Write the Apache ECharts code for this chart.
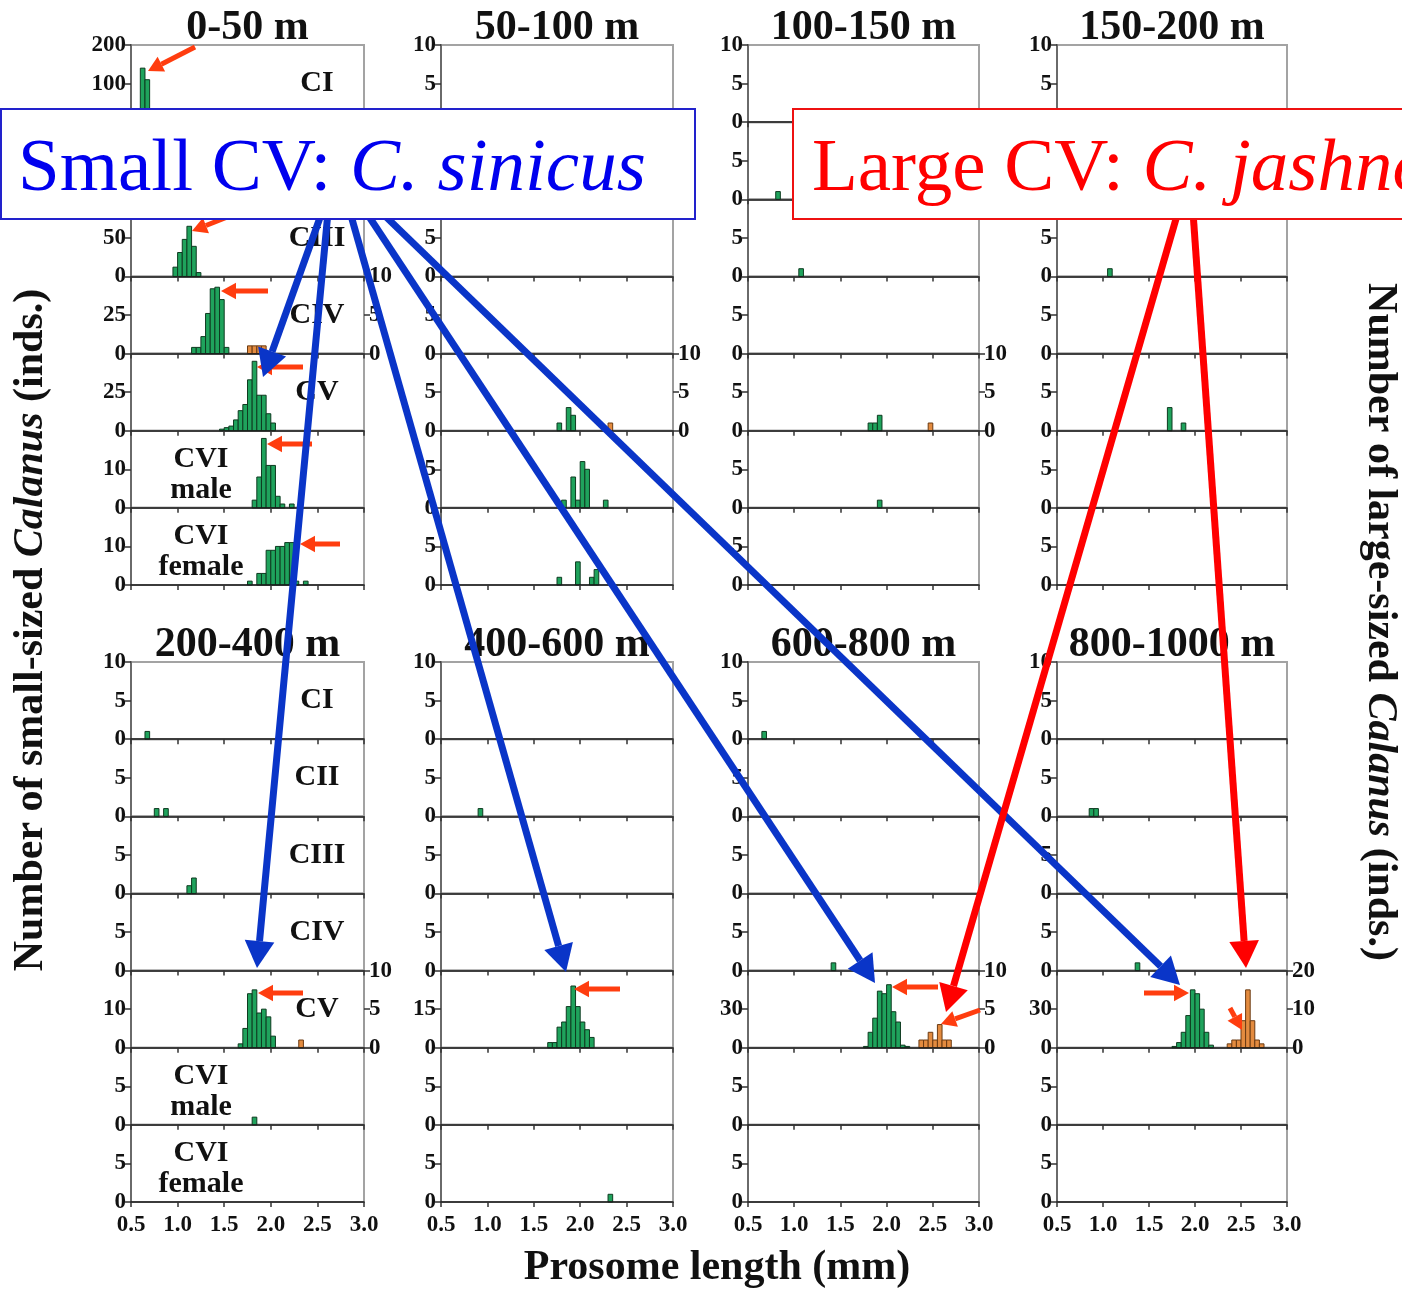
<!DOCTYPE html>
<html><head><meta charset="utf-8">
<script src="https://cdn.jsdelivr.net/npm/echarts@6/dist/echarts.min.js"></script>
<style>html,body{margin:0;padding:0;background:#fff}#c{width:1402px;height:1289px}</style>
</head><body><div id="c"></div>
<script>
// ---------- DATA ----------
const BIN = 0.05; // histogram bin width (mm)
const depthTitles = ['0-50 m','50-100 m','100-150 m','150-200 m','200-400 m','400-600 m','600-800 m','800-1000 m'];
const stageNames = ['CI','CII','CIII','CIV','CV','CVI\nmale','CVI\nfemale'];
const lengthTicks = [0.5, 1.0, 1.5, 2.0, 2.5, 3.0];

// small-sized Calanus: [bin start (mm), number of inds.]
const s0_CI   = [[0.55,3],[0.60,140],[0.65,110],[0.70,20]];
const s0_CII  = [];
const s0_CIII = [[0.95,12],[1.00,31],[1.05,48],[1.10,65],[1.15,39],[1.20,5]];
const s0_CIV  = [[1.15,4],[1.20,4],[1.25,11],[1.30,26],[1.35,42],[1.40,43],[1.45,35],[1.50,4]];
const s0_CV   = [[1.45,1],[1.50,2],[1.55,3],[1.60,7],[1.65,13],[1.70,17],[1.75,33],[1.80,45],[1.85,23],[1.90,23],[1.95,11],[2.00,5]];
const s0_CVIm = [[1.80,2],[1.85,8],[1.90,18],[1.95,11],[2.00,11],[2.05,3],[2.10,1],[2.20,1]];
const s0_CVIf = [[1.75,1],[1.85,3],[1.90,3],[1.95,9],[2.00,9],[2.05,10],[2.10,10],[2.15,11],[2.20,11],[2.25,1],[2.35,1]];

const s1_CV   = [[1.75,1],[1.85,3],[1.90,2]];
const s1_CVIm = [[1.80,1],[1.90,4],[1.95,1],[2.00,6],[2.05,5],[2.25,1]];
const s1_CVIf = [[1.75,1],[1.95,3],[2.10,1],[2.15,2]];

const s2_CII  = [[0.80,1]];
const s2_CIII = [[1.05,1]];
const s2_CV   = [[1.80,1],[1.85,1],[1.90,2]];
const s2_CVIm = [[1.90,1]];

const s3_CIII = [[1.05,1]];
const s3_CV   = [[1.70,3],[1.85,1]];

const s4_CI   = [[0.65,1]];
const s4_CII  = [[0.75,1],[0.85,1]];
const s4_CIII = [[1.10,1],[1.15,2]];
const s4_CV   = [[1.65,1],[1.70,5],[1.75,14],[1.80,15],[1.85,9],[1.90,10],[1.95,8],[2.00,3]];
const s4_CVIm = [[1.80,1]];

const s5_CII  = [[0.90,1]];
const s5_CV   = [[1.65,2],[1.70,2],[1.75,8],[1.80,10],[1.85,16],[1.90,24],[1.95,16],[2.00,10],[2.05,7],[2.10,4]];
const s5_CVIf = [[2.30,1]];

const s6_CI   = [[0.65,1]];
const s6_CIV  = [[1.40,1]];
const s6_CV   = [[1.75,1],[1.80,12],[1.85,23],[1.90,44],[1.95,42],[2.00,49],[2.05,28],[2.10,20],[2.15,2],[2.20,1]];

const s7_CII  = [[0.85,1],[0.90,1]];
const s7_CIV  = [[1.35,1]];
const s7_CV   = [[1.75,1],[1.80,4],[1.85,12],[1.90,25],[1.95,45],[2.00,42],[2.05,30],[2.10,12],[2.15,2]];

// large-sized Calanus (C. jashnovi)
const L0_CIV = [[1.75,1],[1.80,1],[1.85,1],[1.90,1]];
const L1_CV  = [[2.30,1]];
const L2_CV  = [[2.45,1]];
const L4_CV  = [[2.30,1]];
const L6_CV  = [[2.35,1],[2.40,1],[2.45,2],[2.50,1],[2.55,3],[2.60,1],[2.65,1]];
const L7_CV  = [[2.35,1],[2.40,2],[2.45,2],[2.50,7],[2.55,15],[2.60,7],[2.65,2],[2.70,1]];

// left axis maxima per depth / stage
const smallMax = [
  [200,100,100,50,50,20,20],
  [10,10,10,10,10,10,10],
  [10,10,10,10,10,10,10],
  [10,10,10,10,10,10,10],
  [10,10,10,10,20,10,10],
  [10,10,10,10,30,10,10],
  [10,10,10,10,60,10,10],
  [10,10,10,10,60,10,10]
];

// table built from the named arrays
const E = [];
const smallTable = [
  [s0_CI, s0_CII, s0_CIII, s0_CIV, s0_CV, s0_CVIm, s0_CVIf],
  [E, E, E, E, s1_CV, s1_CVIm, s1_CVIf],
  [E, s2_CII, s2_CIII, E, s2_CV, s2_CVIm, E],
  [E, E, s3_CIII, E, s3_CV, E, E],
  [s4_CI, s4_CII, s4_CIII, E, s4_CV, s4_CVIm, E],
  [E, s5_CII, E, E, s5_CV, E, s5_CVIf],
  [s6_CI, E, E, s6_CIV, s6_CV, E, E],
  [E, s7_CII, E, s7_CIV, s7_CV, E, E]
];
// [depth, stage, right-axis max, data]
const largeTable = [
  [0, 3, 10, L0_CIV],
  [1, 4, 10, L1_CV],
  [2, 4, 10, L2_CV],
  [4, 4, 10, L4_CV],
  [6, 4, 10, L6_CV],
  [7, 4, 20, L7_CV]
];

// ---------- LAYOUT / STYLE ----------
const colLeft = [131, 441, 748, 1057];
const colWidth = [233, 232, 231, 230];
const blockTop = [45, 662];
const blockH = 540;
const subH = blockH / 7;
const SERIF = '"Liberation Serif","Times New Roman",serif';
const GREEN = '#1fa35c', GREEN_EDGE = '#0e3b20';
const ORANGE = '#e38b3f', ORANGE_EDGE = '#6b3a12';
const lbl = {fontFamily: SERIF, fontWeight: 'bold', fontSize: 23, color: '#111'};

function histRenderer(fill, edge) {
  return function (params, api) {
    const x0 = api.value(0), n = api.value(1);
    const a = api.coord([x0, 0]);
    const b = api.coord([x0 + BIN, n]);
    return {type: 'rect', shape: {x: a[0], y: b[1], width: b[0] - a[0], height: a[1] - b[1]},
            style: {fill: fill, stroke: edge, lineWidth: 1}};
  };
}

const grids = [], xAxes = [], yAxes = [], series = [];
for (let d = 0; d < 8; d++) {
  const col = d % 4, row = Math.floor(d / 4);
  for (let s = 0; s < 7; s++) {
    const g = grids.length;
    grids.push({left: colLeft[col], top: blockTop[row] + s * subH, width: colWidth[col], height: subH,
                show: true, borderColor: '#a3a3a3', borderWidth: 2, backgroundColor: 'transparent'});
    xAxes.push({gridIndex: g, type: 'value', min: lengthTicks[0], max: lengthTicks[lengthTicks.length - 1],
                interval: lengthTicks[1] - lengthTicks[0], z: 5,
                axisLine: {show: true, onZero: false, lineStyle: {color: '#1a1a1a', width: 1.5}},
                axisTick: {show: true, length: 5, lineStyle: {color: '#333', width: 1.5}},
                axisLabel: Object.assign({show: s === 6 && row === 1, margin: 12, formatter: v => v.toFixed(1)}, lbl),
                splitLine: {show: false}});
    const M = smallMax[d][s];
    const yl = yAxes.length;
    yAxes.push({gridIndex: g, type: 'value', min: 0, max: M, interval: M / 2, position: 'left', z: 5,
                axisLine: {show: true, lineStyle: {color: '#6a6a6a', width: 2}},
                axisTick: {show: true, length: 6, lineStyle: {color: '#333', width: 1.5}},
                axisLabel: Object.assign({showMaxLabel: s === 0, showMinLabel: true, margin: 5}, lbl),
                splitLine: {show: false}});
    series.push({type: 'custom', coordinateSystem: 'cartesian2d', xAxisIndex: g, yAxisIndex: yl,
                 data: smallTable[d][s], renderItem: histRenderer(GREEN, GREEN_EDGE), clip: false, z: 3});
    const L = largeTable.find(r => r[0] === d && r[1] === s);
    if (L) {
      const yr = yAxes.length;
      yAxes.push({gridIndex: g, type: 'value', min: 0, max: L[2], interval: L[2] / 2, position: 'right', z: 5,
                  axisLine: {show: true, lineStyle: {color: '#9a9a9a', width: 2}},
                  axisTick: {show: true, length: 6, lineStyle: {color: '#333', width: 1.5}},
                  axisLabel: Object.assign({showMaxLabel: true, showMinLabel: true, margin: 5}, lbl),
                  splitLine: {show: false}});
      series.push({type: 'custom', coordinateSystem: 'cartesian2d', xAxisIndex: g, yAxisIndex: yr,
                   data: L[3], renderItem: histRenderer(ORANGE, ORANGE_EDGE), clip: false, z: 3});
    }
  }
}

// ---------- ANNOTATIONS ----------
const graphics = [];
function txt(x, y, text, size, opts) {
  graphics.push(Object.assign({type: 'text', x: x, y: y, z: 20,
    style: {text: text, fontFamily: SERIF, fontWeight: 'bold', fontSize: size, fill: '#111',
            align: 'center', verticalAlign: 'middle', textAlign: 'center', textVerticalAlign: 'middle', lineHeight: size}}, opts || {}));
}
// depth titles
depthTitles.forEach((t, d) => {
  const col = d % 4, row = Math.floor(d / 4);
  txt(colLeft[col] + colWidth[col] / 2, blockTop[row] - 17, t, 42);
});
// stage labels (first column)
[0, 1].forEach(row => {
  stageNames.forEach((n, s) => {
    const cy = blockTop[row] + s * subH + subH / 2;
    if (s < 5) txt(colLeft[0] + 186, cy, n, 30);
    else { const t = {text: n, fontFamily: SERIF, fontWeight: 'bold', fontSize: 30, fill: '#111', align: 'center', verticalAlign: 'middle', textAlign: 'center', textVerticalAlign: 'middle', lineHeight: 31};
           graphics.push({type: 'text', x: colLeft[0] + 70, y: cy + 5, z: 20, style: t}); }
  });
});
// axis titles
const richTitle = (a) => ({
  text: '{b|' + a + '}{i|Calanus}{b| (inds.)}',
  rich: {b: {fontFamily: SERIF, fontWeight: 'bold', fontSize: 42, fill: '#111'},
         i: {fontFamily: SERIF, fontWeight: 'bold', fontStyle: 'italic', fontSize: 42, fill: '#111'}},
  align: 'center', verticalAlign: 'middle', textAlign: 'center', textVerticalAlign: 'middle'
});
graphics.push({type: 'text', x: 31, y: 630, rotation: Math.PI / 2, z: 20, style: richTitle('Number of small-sized ')});
graphics.push({type: 'text', x: 1380, y: 622, rotation: -Math.PI / 2, z: 20, style: richTitle('Number of large-sized ')});
txt(717, 1268, 'Prosome length (mm)', 42);

function arrow(x1, y1, x2, y2, color, w, head, z) {
  const ang = Math.atan2(y2 - y1, x2 - x1);
  const hx = x2 - head * Math.cos(ang), hy = y2 - head * Math.sin(ang);
  const px = -Math.sin(ang) * head * 0.55, py = Math.cos(ang) * head * 0.55;
  graphics.push({type: 'line', z: z, shape: {x1: x1, y1: y1, x2: hx, y2: hy}, style: {stroke: color, lineWidth: w}});
  graphics.push({type: 'polygon', z: z, shape: {points: [[x2, y2], [hx + px, hy + py], [hx - px, hy - py]]}, style: {fill: color}});
}
// small peak arrows
const RED_O = '#ff3d0f';
[[[195,47],[148,71]], [[240,212],[192,231]], [[268,291],[221,291]], [[303,367],[257,367]],
 [[312,444],[267,444]], [[340,544],[300,544]], [[303,993],[258,993]], [[620,989],[574,989]],
 [[938,987],[892,987]], [[980,1010],[941,1024]], [[1144,993],[1189,993]], [[1230,1008],[1242,1030]]
].forEach(a => arrow(a[0][0], a[0][1], a[1][0], a[1][1], RED_O, 5, 15, 40));
// big arrows
const BLUE = '#0a35c8';
[[[322,212],[263,377]], [[328,212],[257,968]], [[350,212],[566,972]], [[366,212],[875,983]], [[381,212],[1180,985]]]
  .forEach(a => arrow(a[0][0], a[0][1], a[1][0], a[1][1], BLUE, 7, 27, 50));
[[[1178,212],[946,1012]], [[1193,212],[1246,968]]]
  .forEach(a => arrow(a[0][0], a[0][1], a[1][0], a[1][1], '#ff0000', 7, 27, 50));
// boxes
graphics.push({type: 'rect', z: 60, shape: {x: 1, y: 109, width: 694, height: 110}, style: {fill: '#fff', stroke: '#2222cc', lineWidth: 2}});
graphics.push({type: 'rect', z: 60, shape: {x: 793, y: 109, width: 700, height: 110}, style: {fill: '#fff', stroke: '#ee1111', lineWidth: 2}});
const boxText = (a, b, color) => ({
  text: '{a|' + a + '}{b|' + b + '}',
  rich: {a: {fontFamily: SERIF, fontSize: 75, fill: color},
         b: {fontFamily: SERIF, fontStyle: 'italic', fontSize: 75, fill: color}},
  align: 'left', verticalAlign: 'middle', textAlign: 'left', textVerticalAlign: 'middle'
});
graphics.push({type: 'text', z: 61, x: 18, y: 170, style: boxText('Small CV: ', 'C. sinicus', '#0000ee')});
graphics.push({type: 'text', z: 61, x: 812, y: 170, style: boxText('Large CV: ', 'C. jashnovi', '#ff0000')});

const chart = echarts.init(document.getElementById('c'), null, {renderer: 'canvas'});
chart.setOption({
  animation: false,
  backgroundColor: '#fff',
  grid: grids, xAxis: xAxes, yAxis: yAxes, series: series,
  graphic: {elements: graphics}
});
</script></body></html>
